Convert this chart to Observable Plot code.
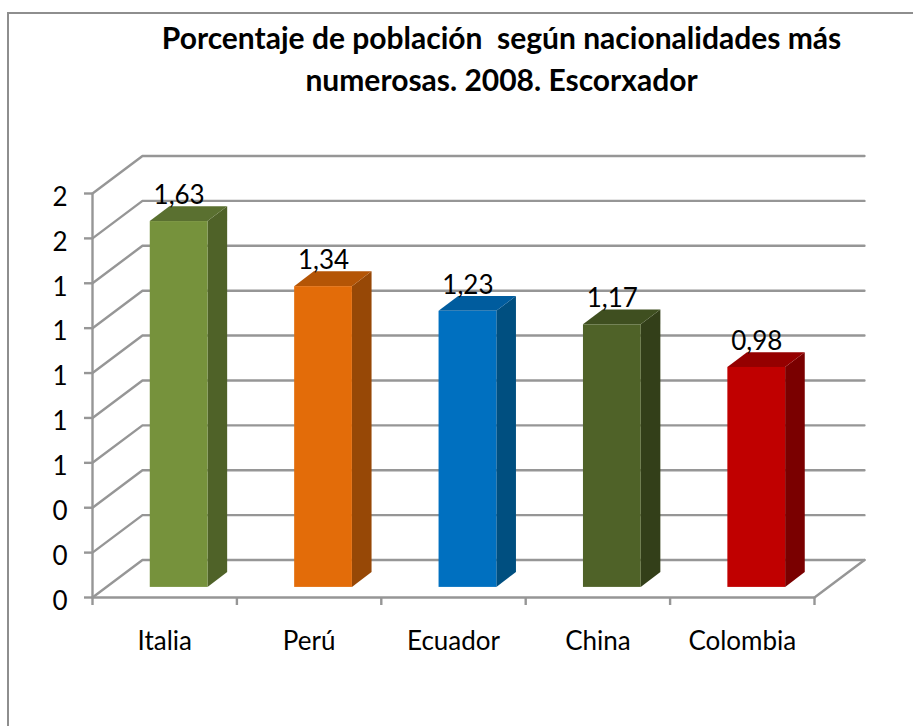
<!DOCTYPE html>
<html><head><meta charset="utf-8">
<script src="https://cdn.jsdelivr.net/npm/d3@7"></script>
<script src="https://cdn.jsdelivr.net/npm/@observablehq/plot@0.6"></script>
<style>
html,body{margin:0;padding:0;background:#fff;overflow:hidden}
#frame{position:absolute;left:7px;top:12px;right:0;bottom:0;border-left:2px solid #8e8e8e;border-top:2px solid #8e8e8e}
#title{position:absolute;left:0;top:16px;width:1003px;text-align:center;font:700 30px/42px Lato,sans-serif;color:#000;white-space:pre}
#chart{position:absolute;left:0;top:100px}
#chart svg{background:transparent;overflow:visible}
</style></head><body>
<div id="frame"></div>
<div id="title">Porcentaje de población  según nacionalidades más
numerosas. 2008. Escorxador</div>
<div id="chart"></div>
<script>
const categories = ["Italia","Perú","Ecuador","China","Colombia"];
const values = [1.63,1.34,1.23,1.17,0.98];
const yTicks = [0,0.2,0.4,0.6,0.8,1,1.2,1.4,1.6,1.8];
const xTicks = [0,1,2,3,4,5];
const frontColors = ["#76923c","#e36c09","#0070c0","#4f6228","#c00000"];
const sideColors  = ["#4f6228","#974806","#004f80","#333f19","#7a0000"];
const topColors   = ["#5a7030","#b45506","#005c9e","#3f4f20","#950000"];

// oblique projection of depth, in data units
const wallDx = 0.346, wallDy = 0.167;
const barL = 0.4, barW = 0.4, barBase = 0.045, barDx = 0.136, barDy = 0.066;
const grid = "#969696";
const lineW = 2.4;

const bars = values.map((v,i)=>({i,v,l:i+barL,r:i+barL+barW,t:v+barBase,
  front:frontColors[i],side:sideColors[i],top:topColors[i],name:categories[i]}));

const gridPaths = yTicks.flatMap(v=>[
  {g:v,x:0,y:v},{g:v,x:wallDx,y:v+wallDy},{g:v,x:5+wallDx,y:v+wallDy}]);
const floorEdge = [{x:5,y:0},{x:5+wallDx,y:wallDy}];

const sides = bars.flatMap(b=>[
  {i:b.i,c:b.side,x:b.r,y1:barBase,y2:b.t},
  {i:b.i,c:b.side,x:b.r+barDx,y1:barBase+barDy,y2:b.t+barDy}]);
const tops = bars.flatMap(b=>[
  {i:b.i,c:b.top,y:b.t,x1:b.l,x2:b.r},
  {i:b.i,c:b.top,y:b.t+barDy,x1:b.l+barDx,x2:b.r+barDx}]);

const font = "Lato, sans-serif";
const chart = Plot.plot({
  width:913, height:600,
  marginLeft:92, marginRight:99, marginTop:93, marginBottom:103,
  style:{fontFamily:font,background:"transparent",color:"#000"},
  x:{type:"linear",domain:[0,5]},
  y:{type:"linear",domain:[0,1.8]},
  color:{type:"identity"},
  marks:[
    Plot.line(gridPaths,{x:"x",y:"y",z:"g",stroke:grid,strokeWidth:lineW,curve:"linear"}),
    Plot.line(floorEdge,{x:"x",y:"y",stroke:grid,strokeWidth:lineW}),
    Plot.ruleX([0],{y1:0,y2:1.8,stroke:grid,strokeWidth:lineW}),
    Plot.ruleY([0],{x1:0,x2:5,stroke:grid,strokeWidth:lineW}),
    Plot.axisY({ticks:yTicks,tickSize:8,label:null,stroke:grid,strokeWidth:lineW,fill:"none",tickFormat:null}),
    Plot.axisY({ticks:yTicks,tickFormat:d=>d3.format(".0f")(d),tickSize:8,tickPadding:17,dy:4,fontSize:26,label:null,stroke:"none",fill:"#000"}),
    Plot.axisX({ticks:xTicks,tickFormat:()=>"",tickSize:8,label:null,stroke:grid,strokeWidth:lineW}),
    Plot.axisX({ticks:xTicks.slice(0,-1).map(d=>d+0.5),tickFormat:d=>categories[d-0.5],tickSize:0,tickPadding:34,fontSize:26,label:null,fill:"#000"}),
    Plot.areaY(sides,{x:"x",y1:"y1",y2:"y2",z:"i",fill:"c"}),
    Plot.areaX(tops,{y:"y",x1:"x1",x2:"x2",z:"i",fill:"c"}),
    Plot.rect(bars,{x1:"l",x2:"r",y1:barBase,y2:"t",fill:"front"}),
    Plot.text(bars,{x:d=>d.l+barW/2,y:"t",text:d=>d3.format(".2f")(d.v).replace(".",","),dy:-26,fontSize:26,fill:"#000"})
  ]
});
document.getElementById("chart").append(chart);
</script>
</body></html>
